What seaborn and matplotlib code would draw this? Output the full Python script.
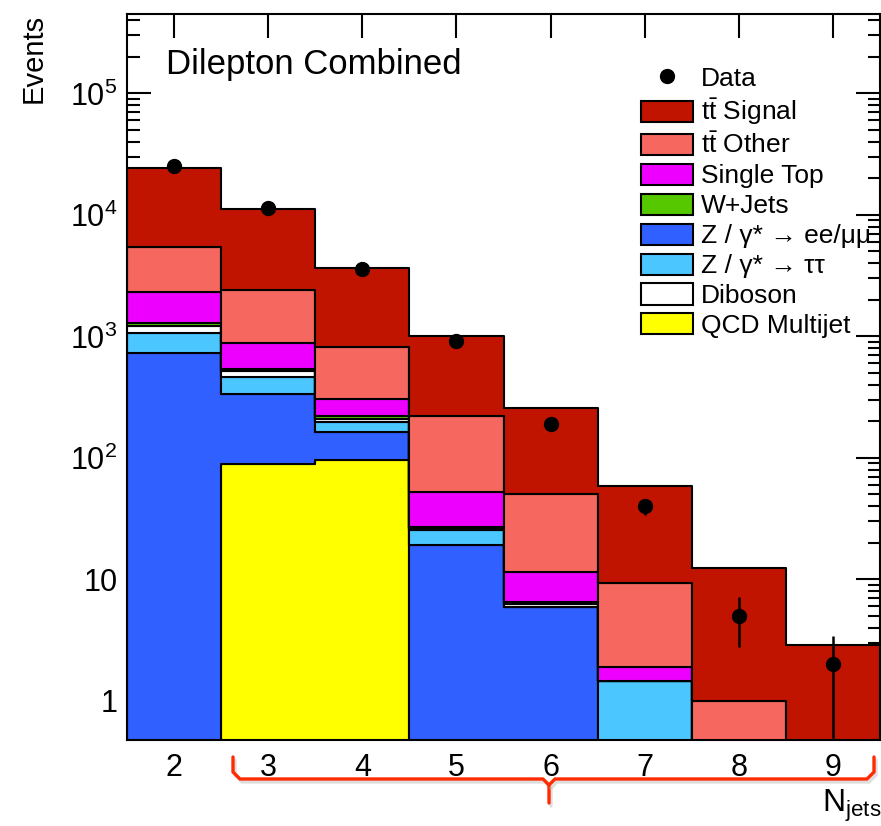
import numpy as np
import pandas as pd
import matplotlib
matplotlib.use('Agg')
import matplotlib.pyplot as plt
import seaborn as sns
from matplotlib.patches import Patch
from matplotlib.lines import Line2D
from matplotlib.ticker import FixedLocator, FuncFormatter, LogLocator, NullLocator

# values
njets = [2, 3, 4, 5, 6, 7, 8, 9]
tt_signal = [18800, 8800, 2860, 778, 206, 49.7, 11.3, 2.88]
tt_other = [3130, 1510, 519, 170, 39, 7.35, 1.0, 0]
single_top = [1062, 345, 83, 25, 5.1, 0.47, 0, 0]
w_jets = [70, 24, 11, 0.6, 0.2, 0, 0, 0]
diboson = [150, 55, 12, 1.0, 0.4, 0, 0, 0]
z_tautau = [333, 129, 35, 6.3, 0, 1.45, 0, 0]
z_eemm = [726, 246, 68, 19.1, 5.9, 0, 0, 0]
qcd = [0, 89, 96, 0, 0, 0, 0, 0]

data = [25200, 11400, 3610, 910, 190, 40, 5, 2]
data_err_lo = [159, 107, 60, 30, 14, 6.3, 2.2, 1.9]
data_err_hi = [159, 107, 60, 30, 14, 6.3, 2.2, 1.4]

processes = {
    r"t$\bar{\mathrm{t}}$ Signal": (tt_signal, '#c01400'),
    r"t$\bar{\mathrm{t}}$ Other": (tt_other, '#f5675f'),
    "Single Top": (single_top, '#ee00ff'),
    "W+Jets": (w_jets, '#55c800'),
    "Z / γ* → ee/μμ": (z_eemm, '#3060ff'),
    "Z / γ* → ττ": (z_tautau, '#4cc6ff'),
    "Diboson": (diboson, '#ffffff'),
    "QCD Multijet": (qcd, '#ffff00'),
}
legend_order = list(processes.keys())
# stacking order, top of the stack first (seaborn puts the last level at the bottom)
stack_order = [legend_order[i] for i in [0, 1, 2, 3, 6, 5, 4, 7]]

rows = []
for name, (vals, col) in processes.items():
    for nj, v in zip(njets, vals):
        rows.append({'nj': nj, 'process': name, 'events': v})
df = pd.DataFrame(rows)
palette = {k: v[1] for k, v in processes.items()}

sns.set_style('ticks')
plt.rcParams['font.family'] = ['Liberation Sans', 'DejaVu Sans']
plt.rcParams['mathtext.fontset'] = 'custom'
plt.rcParams['mathtext.rm'] = 'Liberation Sans'
plt.rcParams['mathtext.it'] = 'Liberation Sans:italic'
plt.rcParams['mathtext.bf'] = 'Liberation Sans:bold'
for key in ['text.color', 'axes.labelcolor', 'xtick.color', 'ytick.color', 'axes.edgecolor']:
    plt.rcParams[key] = 'black'

fig = plt.figure(figsize=(8.81, 8.26), dpi=100)
ax = fig.add_axes([127 / 881, 86 / 826, 753 / 881, 726 / 826])
ax.set_yscale('log')

sns.histplot(data=df, x='nj', weights='events', hue='process', hue_order=stack_order,
             multiple='stack', discrete=True, element='step', palette=palette,
             edgecolor='black', linewidth=1.5, alpha=1, legend=False, ax=ax)

ax.errorbar(njets, data, yerr=[data_err_lo, data_err_hi], fmt='o', color='black',
            ms=10, elinewidth=1.8, capsize=0, zorder=5)

ax.set_xlim(1.5, 9.5)
ax.set_ylim(0.477, 4.5e5)
ax.xaxis.set_major_locator(FixedLocator(njets))
ax.xaxis.set_minor_locator(NullLocator())
ax.yaxis.set_major_locator(LogLocator(base=10, numticks=10))
ax.yaxis.set_minor_locator(LogLocator(base=10, subs=np.arange(2, 10), numticks=20))


def yfmt(v, pos):
    if abs(v - 1) < 1e-6:
        return '1'
    if abs(v - 10) < 1e-6:
        return '10'
    return r'$10^{%d}$' % int(round(np.log10(v)))


ax.yaxis.set_major_formatter(FuncFormatter(yfmt))
ax.yaxis.set_minor_formatter(FuncFormatter(lambda v, p: ''))
ax.tick_params(which='both', direction='in', top=True, right=True, width=1.5, labelsize=22)
ax.tick_params(which='major', length=17)
ax.tick_params(which='minor', length=9)
ax.tick_params(axis='x', pad=9)
ax.tick_params(axis='y', pad=7)
for s in ax.spines.values():
    s.set_linewidth(1.5)

ax.set_xlabel('')
ax.set_ylabel('Events', fontsize=21, loc='top')
ax.yaxis.set_label_coords(-0.105, 1.0)

ax.text(0.052, 0.93, 'Dilepton Combined', transform=ax.transAxes, fontsize=25,
        ha='left', va='center')

handles = [Line2D([], [], marker='o', color='black', linestyle='none', ms=10)]
labels = ['Data']
for name in legend_order:
    handles.append(Patch(facecolor=palette[name], edgecolor='black', linewidth=1.5))
    labels.append(name)
ax.legend(handles, labels, loc='upper left', bbox_to_anchor=(0.683, 0.928), frameon=False,
          fontsize=19, handlelength=1.95, handleheight=0.85, handletextpad=0.3,
          labelspacing=0.2, borderpad=0, borderaxespad=0)

fig.text(822 / 881, 1 - 812 / 826, r'$\mathrm{N}_{\mathrm{jets}}$', fontsize=23,
         ha='left', va='baseline')

# red brace under the x axis
over = fig.add_axes([0, 0, 1, 1], facecolor='none')
over.set_xlim(0, 881)
over.set_ylim(826, 0)
over.axis('off')
red = '#ff2a00'
brace_l = ([233, 233, 240, 543, 549, 549], [757, 772, 779, 779, 785, 803])
brace_r = ([549, 555, 867, 874, 874], [785, 779, 779, 772, 757])
for bx, by in [brace_l, brace_r]:
    over.plot([v + 2 for v in bx], [v + 3 for v in by], color='0.75', lw=2.4, alpha=0.5,
              solid_joinstyle='round', solid_capstyle='round')
    over.plot(bx, by, color=red, lw=2.4, solid_joinstyle='round', solid_capstyle='round')

fig.savefig('out.png', dpi=100)
